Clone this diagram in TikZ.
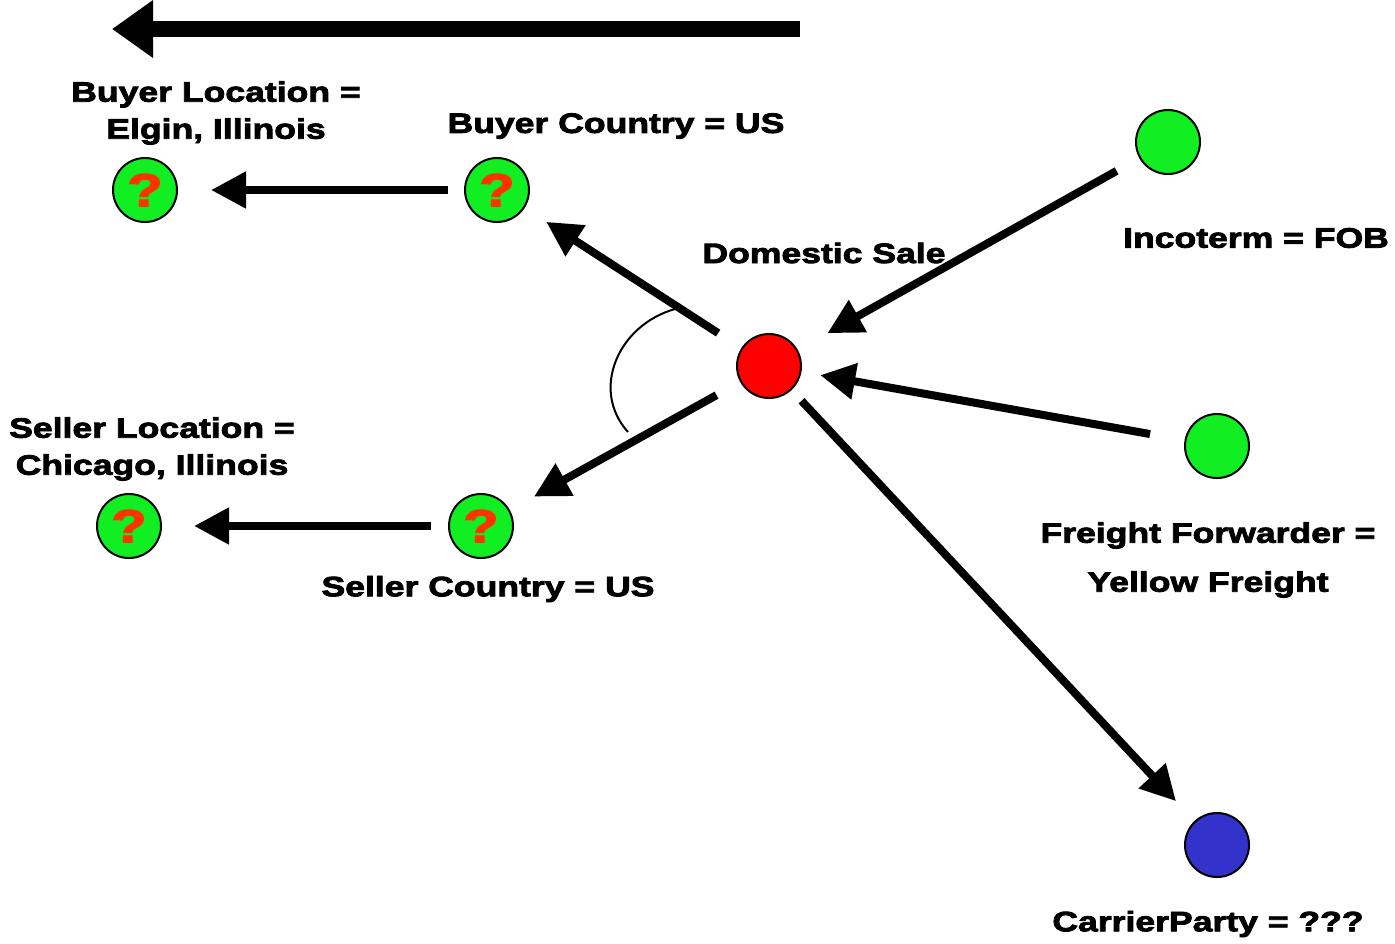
\documentclass[tikz,border=0pt]{standalone}
\usepackage{fontspec}
\setmainfont{Liberation Sans}[BoldFeatures={FakeBold=3,FakeStretch=1.27}]
\usetikzlibrary{arrows.meta}
\definecolor{factgreen}{RGB}{17,238,34}
\definecolor{partyblue}{RGB}{51,51,204}
\definecolor{qmark}{RGB}{255,51,0}
\begin{document}
\begin{tikzpicture}[x=0.5pt,y=-0.5pt,
  every node/.style={font=\fontsize{14}{18.5}\selectfont\bfseries},
  state/.style={circle,draw,line width=1pt,minimum size=32pt,inner sep=0pt},
  unknown/.style={state,fill=factgreen,text=qmark,font=\fontsize{23}{23}\selectfont\bfseries},
  link/.style={line width=4pt,-{Triangle[length=17.5pt,width=17.5pt]}}]
  \useasboundingbox (0,0) rectangle (1395,943);

  \coordinate (flowstart) at (800,29);
  \coordinate (flowend) at (112,29);
  \draw[line width=8pt,-{Triangle[length=20.5pt,width=27.5pt]}] (flowstart) -- (flowend);

  \node (bl) [unknown] at (145,190) {?};
  \node (bc) [unknown] at (497,190) {?};
  \node (sl) [unknown] at (129,526) {?};
  \node (sc) [unknown] at (481,526) {?};
  \node (ds) [state,fill=red] at (769,366) {};
  \node (inco) [state,fill=factgreen] at (1168,142) {};
  \node (ff) [state,fill=factgreen] at (1217,446) {};
  \node (cp) [state,fill=partyblue] at (1217,845) {};

  \node (bllabel) [align=center] at (216,113) {Buyer Location =\\Elgin, Illinois};
  \node (bclabel) at (616,126) {Buyer Country = US};
  \node (dslabel) at (824,253) {Domestic Sale};
  \node (incolabel) at (1256,238) {Incoterm = FOB};
  \node (sllabel) [align=center] at (152,449) {Seller Location =\\Chicago, Illinois};
  \node (sclabel) at (488,589) {Seller Country = US};
  \node (fflabel) [align=center] at (1208,560) {Freight Forwarder =\\[6pt]Yellow Freight};
  \node (cplabel) at (1208,924) {CarrierParty = ???};

  \draw[link,shorten <=8pt,shorten >=16.5pt] (bc) -- (bl);
  \draw[link,shorten <=8.5pt,shorten >=16pt] (sc) -- (sl);
  \draw[link,shorten <=13.8pt,shorten >=12.8pt] (ds) -- (bc);
  \draw[link,shorten <=13.5pt,shorten >=13.8pt] (ds) -- (sc);
  \draw[link,shorten <=13pt,shorten >=17pt] (inco) -- (ds);
  \draw[link,shorten <=17.5pt,shorten >=9.5pt] (ff) -- (ds);
  \draw[link,shorten <=7.3pt,shorten >=13.5pt] (ds) -- (cp);

  \draw[line width=1pt] (675,309) .. controls (618,325) and (590,390) .. (628,432);
\end{tikzpicture}
\end{document}
